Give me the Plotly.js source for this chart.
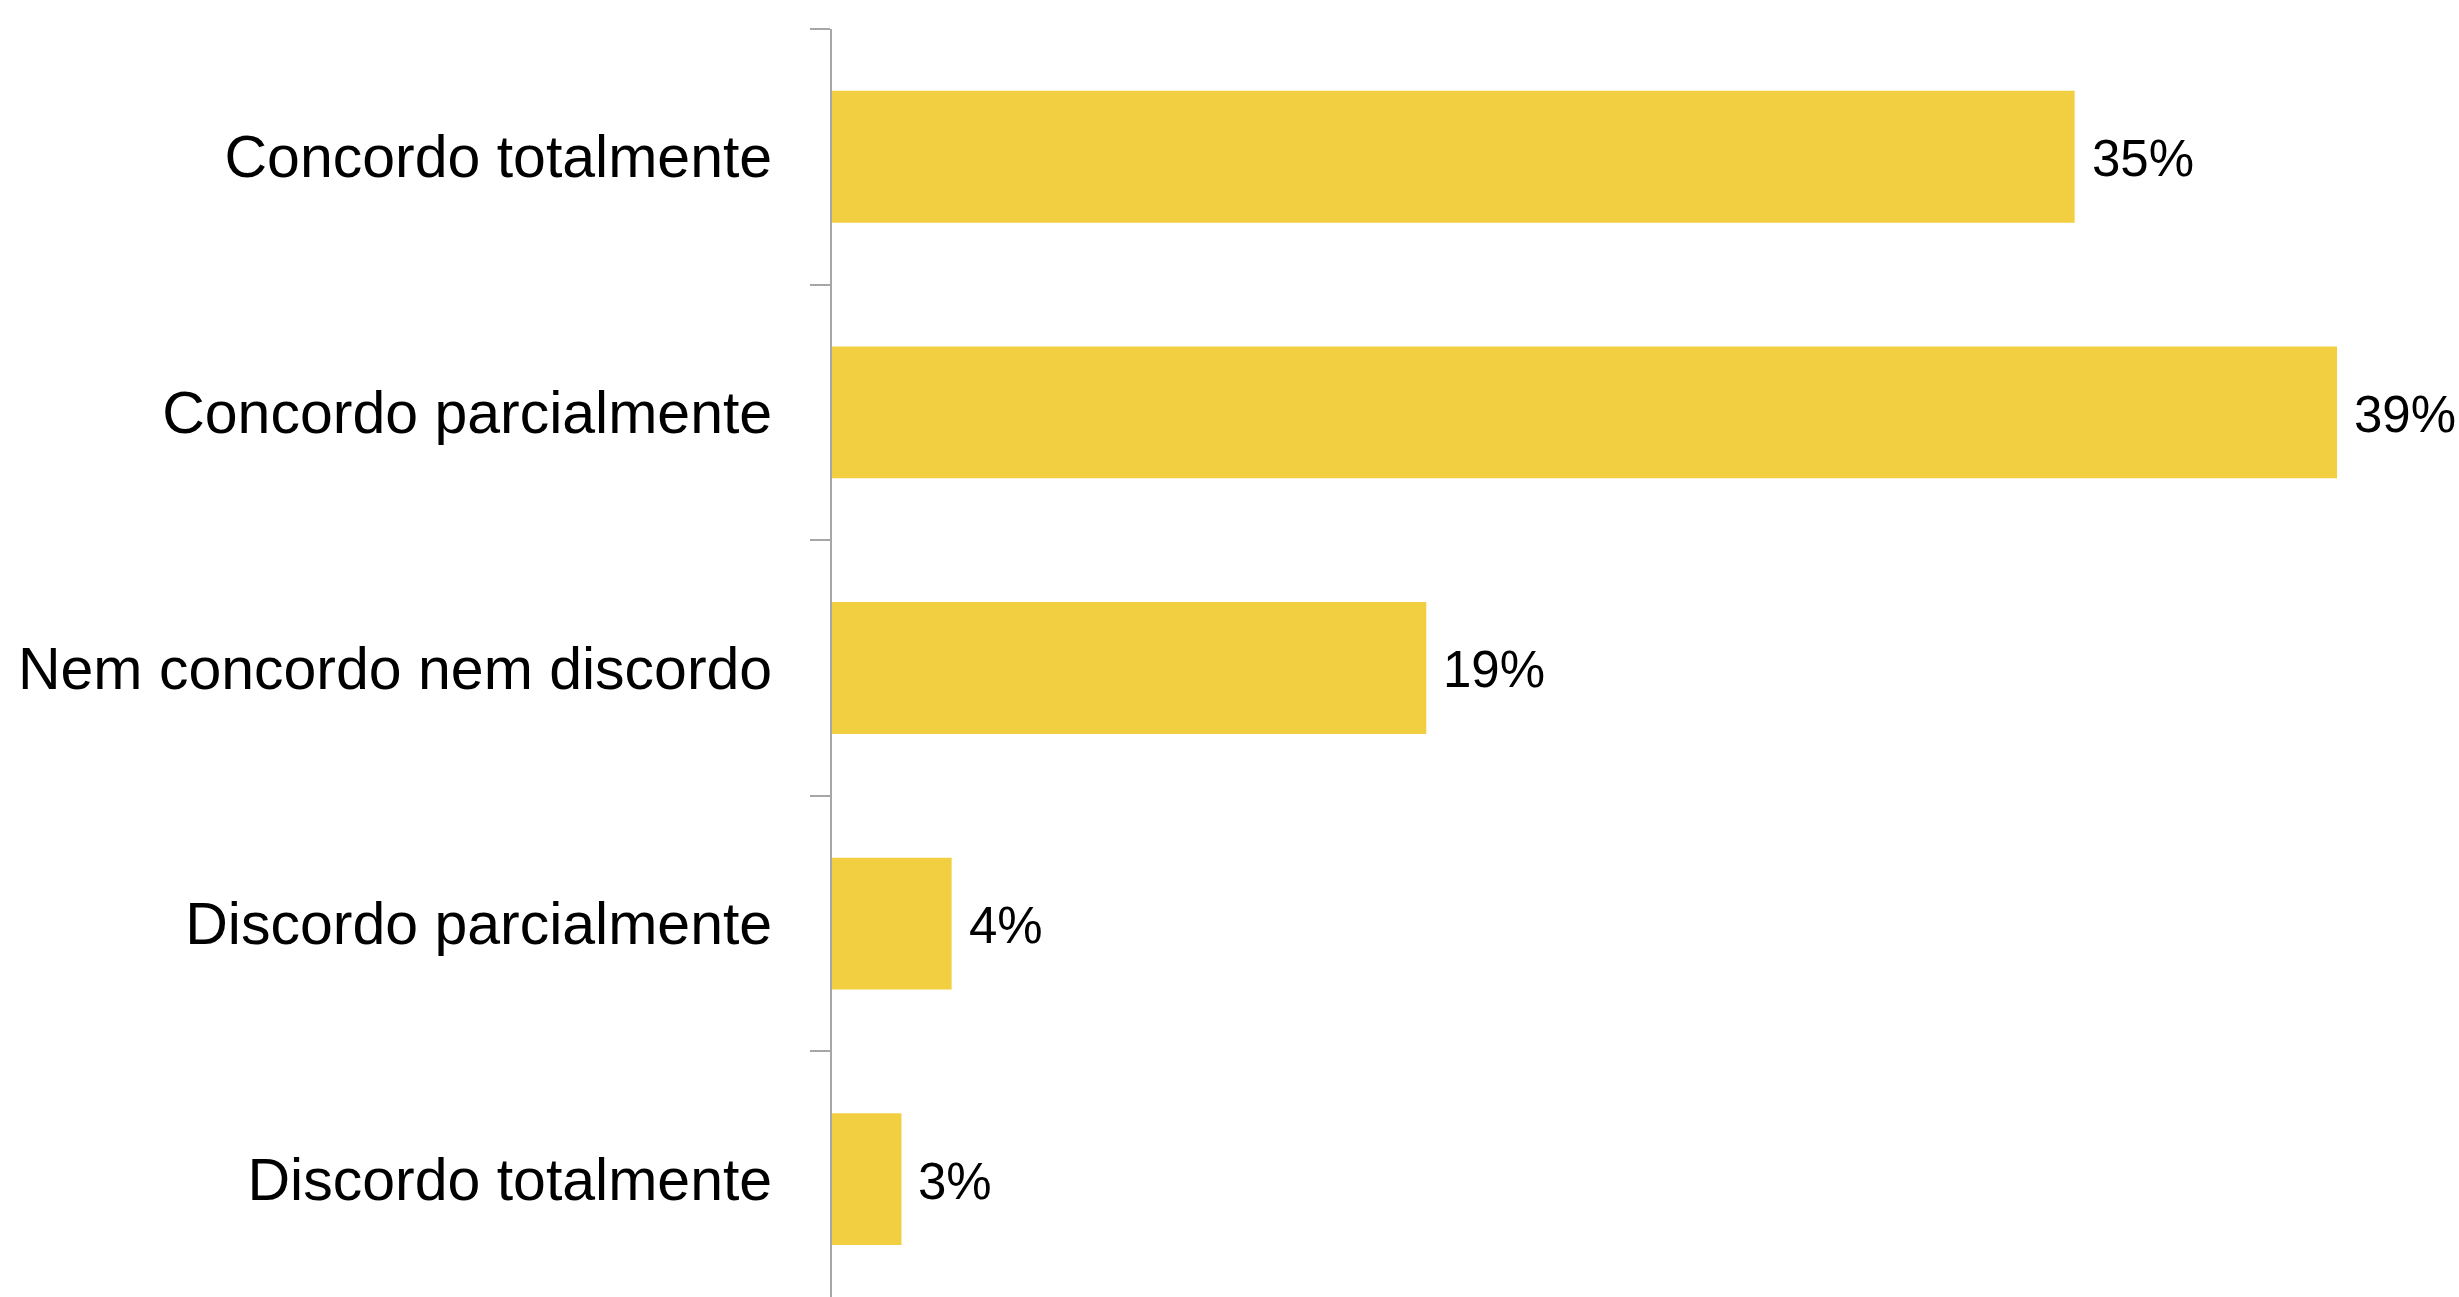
<!DOCTYPE html>
<html>
<head>
<meta charset="utf-8">
<script src="https://cdn.plot.ly/plotly-3.0.1.min.js"></script>
<style>
html,body{margin:0;padding:0;background:#fff;}
#chart{width:2459px;height:1297px;}
</style>
</head>
<body>
<div id="chart"></div>
<script>
// Categories (top to bottom)
const categories = [
  "Concordo totalmente",
  "Concordo parcialmente",
  "Nem concordo nem discordo",
  "Discordo parcialmente",
  "Discordo totalmente"
];
// Bar lengths (same scale as the 39% bar)
const barValues = [32.2, 39.0, 15.4, 3.1, 1.8];
// Printed value labels
const valueLabels = ["35%", "39%", "19%", "4%", "3%"];

const barColor = "#F2CF40";
const fontFamily = "'Liberation Sans', Arial, sans-serif";

const trace = {
  type: "bar",
  orientation: "h",
  y: categories,
  x: barValues,
  marker: {color: barColor, line: {width: 0}},
  hoverinfo: "skip"
};

const annotations = categories.map((c, i) => ({
  x: barValues[i],
  y: c,
  xref: "x",
  yref: "y",
  text: valueLabels[i],
  showarrow: false,
  xanchor: "left",
  yanchor: "middle",
  xshift: 15,
  yshift: -2,
  font: {family: fontFamily, size: 51, color: "#000"}
}));

const layout = {
  width: 2459,
  height: 1297,
  margin: {l: 832, r: 0, t: 29, b: 0, pad: 0},
  paper_bgcolor: "#fff",
  plot_bgcolor: "#fff",
  showlegend: false,
  bargap: 0.484,
  xaxis: {
    range: [0, 42.16],
    visible: false,
    showgrid: false,
    zeroline: false,
    fixedrange: true
  },
  yaxis: {
    type: "category",
    range: [4.461, -0.5],
    showline: true,
    linecolor: "#A6A6A6",
    linewidth: 2,
    ticks: "outside",
    tickson: "boundaries",
    ticklen: 20,
    tickwidth: 2,
    tickcolor: "#A6A6A6",
    ticklabelstandoff: 46,
    showgrid: false,
    zeroline: false,
    tickfont: {family: fontFamily, size: 59, color: "#000"},
    fixedrange: true
  },
  annotations: annotations
};

Plotly.newPlot("chart", [trace], layout, {displayModeBar: false, staticPlot: true});
</script>
</body>
</html>
